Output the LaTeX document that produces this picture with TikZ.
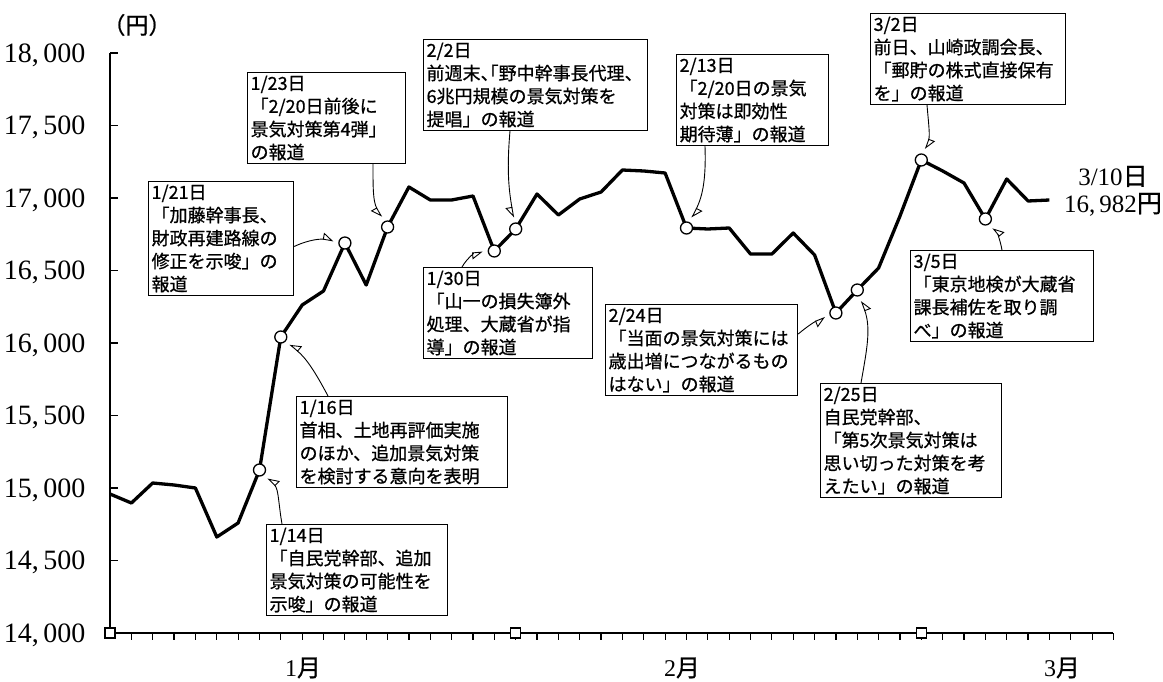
\documentclass[tikz,border=0pt]{standalone}
\usepackage{fontspec}
\setmainfont{Liberation Serif}
\newfontfamily\jp[FakeBold=0.8]{Noto Sans CJK JP}
\newfontfamily\jph[FakeBold=0.8, RawFeature=+halt]{Noto Sans CJK JP}
\usetikzlibrary{arrows.meta}
\tikzset{
  note/.style={draw, line width=1.2pt, anchor=north west, align=left, inner sep=3pt, font=\jp\fontsize{18}{23}\selectfont},
  pt/.style={circle, draw, fill=white, line width=1.3pt, minimum size=12pt, inner sep=0pt},
  sq/.style={rectangle, draw, fill=white, line width=1.2pt, minimum size=10pt, inner sep=0pt},
  arr/.style={line width=0.9pt, shorten >=5pt, -{Triangle[open, harpoon, swap, length=10pt, width=13pt]}},
  arrl/.style={line width=0.9pt, shorten >=5pt, -{Triangle[open, harpoon, length=10pt, width=13pt]}},
  ylab/.style={anchor=east, text height=18.5pt, text depth=0pt, font=\fontsize{28}{28}\selectfont},
  mon/.style={font=\fontsize{24}{24}\selectfont},
}
\begin{document}
\begin{tikzpicture}[x=1pt, y=1pt]
    \useasboundingbox (0,0) rectangle (1163,681);

    % 軸を引く
    \draw[line width=1.8pt] (110,628) -- (110,48) -- (1113,48);
    \foreach \k in {1,...,8}
      \draw[line width=1.3pt] (110,{48+72.5*\k}) -- ++(8,0);
    \foreach \i in {1,...,47}
      \draw[line width=1.2pt] ({110+21.35*\i},48) -- ++(0,-7);
    \node[sq] (s0) at (110,48) {};
    \node[sq] (s1) at (515.7,48) {};
    \node[sq] (s2) at (921.3,48) {};

    % 目盛の値
    \foreach \k/\a/\b in {0/14/000, 1/14/500, 2/15/000, 3/15/500, 4/16/000, 5/16/500, 6/17/000, 7/17/500, 8/18/000}
      \node[ylab] (y\k) at (89,{48+72.5*\k}) {\a,\,\b};
    \node[font=\jp\fontsize{23}{23}\selectfont] (yen) at (137,656) {（円）};
    \node[mon] (m1) at (303,13) {1{\jp 月}};
    \node[mon] (m2) at (682,13) {2{\jp 月}};
    \node[mon] (m3) at (1062,13) {3{\jp 月}};

    % 株価の線
    \draw[line width=3.3pt, line join=round]
      (110,187) -- (131.4,178) -- (152.7,198) -- (174.1,196) -- (195.4,193) -- (216.8,144)
      -- (238.1,158) -- (259.5,211) -- (280.8,344) -- (302.2,376) -- (323.5,390) -- (344.9,438)
      -- (366.2,396) -- (387.6,454) -- (408.9,494) -- (430.3,481) -- (451.6,481) -- (473,485)
      -- (494.3,430) -- (515.7,452) -- (537,487) -- (558.4,466) -- (579.7,482) -- (601.1,489)
      -- (622.4,511) -- (643.8,510) -- (665.1,508) -- (686.5,453) -- (707.8,452) -- (729.2,453)
      -- (750.5,427) -- (771.9,427) -- (793.2,448) -- (814.6,426) -- (835.9,368) -- (857.3,391)
      -- (878.6,413) -- (900,465) -- (921.3,521) -- (942.7,510) -- (964,498) -- (985.4,462)
      -- (1006.7,502) -- (1028.1,480) -- (1049.4,481);

    \node[pt] (d114) at (259.5,211) {};
    \node[pt] (d116) at (280.8,344) {};
    \node[pt] (d121) at (344.9,438) {};
    \node[pt] (d123) at (387.6,454) {};
    \node[pt] (d130) at (494.3,430) {};
    \node[pt] (d202) at (515.7,452) {};
    \node[pt] (d213) at (686.5,453) {};
    \node[pt] (d224) at (835.9,368) {};
    \node[pt] (d225) at (857.3,391) {};
    \node[pt] (d302) at (921.3,521) {};
    \node[pt] (d305) at (985.4,462) {};

    \node[font=\fontsize{25}{27}\selectfont, align=center] (last) at (1113,490) {3/10{\jp 日}\\16,\,982{\jp 円}};

    % 記事を入れる
    \node[note, text width=175pt] (n114) at (266,157) {1/14日\\「自民党幹部、追加\\景気対策の可能性を\\示唆」の報道};
    \node[note, text width=205pt] (n116) at (296,285) {1/16日\\首相、土地再評価実施\\のほか、追加景気対策\\を検討する意向を表明};
    \node[note, text width=139pt] (n121) at (148,500) {1/21日\\「加藤幹事長、\\財政再建路線の\\修正を示唆」の\\報道};
    \node[note, text width=152pt] (n123) at (247,609) {1/23日\\「2/20日前後に\\景気対策第4弾」\\の報道};
    \node[note, text width=163pt] (n130) at (423,414) {1/30日\\「山一の損失簿外\\処理、大蔵省が指\\導」の報道};
    \node[note, text width=218pt] (n202) at (423,642) {2/2日\\前週末{\jph 、「}野中幹事長代理、\\6兆円規模の景気対策を\\提唱」の報道};
    \node[note, text width=146pt] (n213) at (676,627) {2/13日\\「2/20日の景気\\対策は即効性\\期待薄」の報道};
    \node[note, text width=186pt] (n224) at (605,377) {2/24日\\「当面の景気対策には\\歳出増につながるもの\\はない」の報道};
    \node[note, text width=175pt] (n225) at (820,298) {2/25日\\自民党幹部、\\「第5次景気対策は\\思い切った対策を考\\えたい」の報道};
    \node[note, text width=189pt] (n302) at (870,668) {3/2日\\前日、山崎政調会長、\\「郵貯の株式直接保有\\を」の報道};
    \node[note, text width=177pt] (n305) at (910,431) {3/5日\\「東京地検が大蔵省\\課長補佐を取り調\\べ」の報道};

    % 矢印を引く
    \draw[arr] ([xshift=16pt]n114.north west) to[out=100, in=-45] (d114);
    \draw[arr] ([xshift=32pt]n116.north west) to[out=118, in=-40] (d116);
    \draw[arrl] ([yshift=-8pt]n121.east) to[out=25, in=170] (d121);
    \draw[arr] ([xshift=126pt]n123.south west) to[out=-90, in=120] (d123);
    \draw[arr] ([xshift=39pt]n130.north west) to[out=60, in=185] (d130);
    \draw[arr] ([xshift=87pt]n202.south west) to[out=-95, in=100] (d202);
    \draw[arrl] ([xshift=29pt]n213.south west) to[out=-88, in=63] (d213);
    \draw[arr] ([yshift=-30pt]n224.north east) to[out=40, in=202] (d224);
    \draw[arr] ([xshift=41pt]n225.north west) to[out=80, in=-70] (d225);
    \draw[arrl] ([xshift=57pt]n302.south west) to[out=-85, in=70] (d302);
    \draw[arr] ([xshift=92pt]n305.north west) to[out=100, in=-51] (d305);

  \end{tikzpicture}
\end{document}
